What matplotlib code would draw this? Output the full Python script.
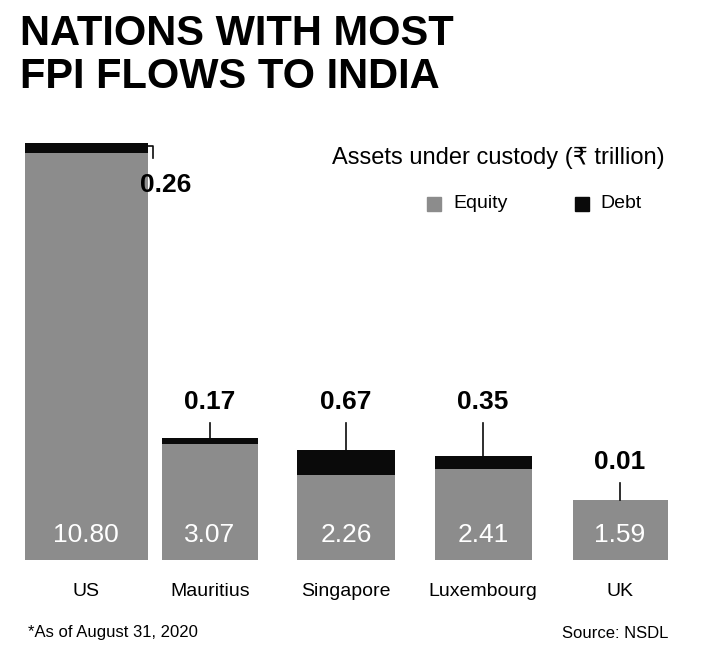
import matplotlib.pyplot as plt

countries = ["US", "Mauritius", "Singapore", "Luxembourg", "UK"]
equity = [10.80, 3.07, 2.26, 2.41, 1.59]
debt = [0.26, 0.17, 0.67, 0.35, 0.01]

centers = [86, 210, 346, 483, 620]
widths = [123, 96, 98, 97, 95]

GREY = "#8c8c8c"
BLACK = "#0a0a0a"
FAM = ["Liberation Sans", "DejaVu Sans"]

W, H = 714, 665
fig = plt.figure(figsize=(W / 100, H / 100), dpi=100)
fig.patch.set_facecolor("white")

# axes in pixel-like x units, data y units; baseline at y=560px
base_px, top_px = 560, 100
ax = fig.add_axes([0, (H - base_px) / H, 1, (base_px - top_px) / H])
px_per_unit = 37.7
ax.set_xlim(0, W)
ax.set_ylim(0, (base_px - top_px) / px_per_unit)
ax.axis("off")

ax.bar(centers, equity, width=widths, color=GREY)
ax.bar(centers, debt, width=widths, bottom=equity, color=BLACK)

for c, e, d, name in zip(centers, equity, debt, countries):
    ax.text(c, 0.65, f"{e:.2f}", color="white", ha="center", va="center",
            fontsize=19, family=FAM)
    top = e + d
    if name == "US":
        ax.plot([c + 62, c + 67, c + 67], [top - 0.08, top - 0.08, top - 0.4],
                color=BLACK, lw=1.2)
        ax.text(c + 80, top - 1.1, f"{d:.2f}", ha="center", va="center",
                fontsize=19, fontweight="bold", family=FAM)
    else:
        label_y = 2.6 if top < 2 else 4.19
        ax.plot([c, c], [top, label_y - 0.55], color=BLACK, lw=1.2)
        ax.text(c, label_y, f"{d:.2f}", ha="center", va="center",
                fontsize=19, fontweight="bold", family=FAM)

for c, name in zip(centers, countries):
    fig.text(c / W, 1 - 592 / H, name, ha="center", va="center",
             fontsize=14, family=FAM)

fig.text(20 / W, 1 - 14 / H, "NATIONS WITH MOST\nFPI FLOWS TO INDIA",
         ha="left", va="top", fontsize=30, fontweight="bold", family=FAM,
         linespacing=1.1)
fig.text(665 / W, 1 - 158 / H, "Assets under custody (₹ trillion)",
         ha="right", va="center", fontsize=17, family=FAM)

# legend
fig.patches.append(plt.Rectangle((427 / W, 1 - 211 / H), 14 / W, 14 / H,
                                 transform=fig.transFigure, color=GREY))
fig.text(453 / W, 1 - 204 / H, "Equity", va="center", fontsize=14, family=FAM)
fig.patches.append(plt.Rectangle((575 / W, 1 - 211 / H), 14 / W, 14 / H,
                                 transform=fig.transFigure, color=BLACK))
fig.text(600 / W, 1 - 204 / H, "Debt", va="center", fontsize=14, family=FAM)

fig.text(28 / W, 1 - 633 / H, "*As of August 31, 2020", va="center",
         fontsize=12, family=FAM)
fig.text(668 / W, 1 - 633 / H, "Source: NSDL", ha="right", va="center",
         fontsize=12, family=FAM)

fig.savefig("out.png", dpi=100)
